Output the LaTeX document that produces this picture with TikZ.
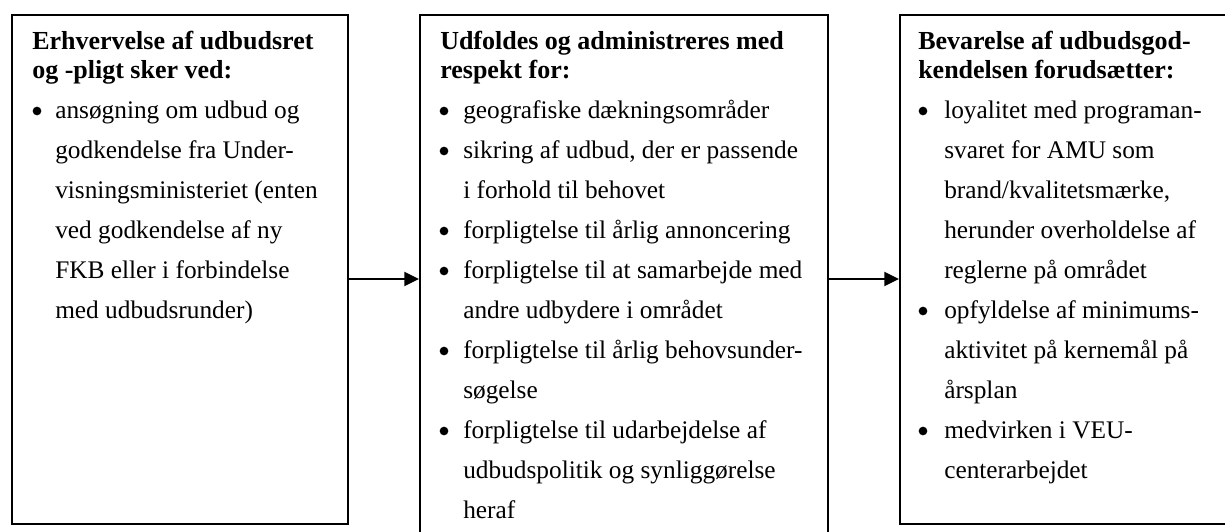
\documentclass[tikz,border=0pt]{standalone}
\usepackage{fontspec}
\setmainfont{Liberation Serif}
\usetikzlibrary{arrows.meta}
\begin{document}
\begin{tikzpicture}[x=0.75pt,y=-0.75pt,
  frame/.style={draw, line width=1.4pt, rectangle, inner sep=0pt, anchor=north west},
  txt/.style={anchor=base west, inner sep=0pt, font=\fontsize{19}{23}\selectfont},
  hd/.style={anchor=base west, inner sep=0pt, font=\bfseries\fontsize{19.5}{23}\selectfont},
  bul/.style={circle, fill=black, inner sep=0pt, minimum size=6.5pt},
  conn/.style={line width=1.4pt, -{Triangle[length=11pt,width=10.5pt]}}]
\useasboundingbox (0,0) rectangle (1225,532);
\clip (0,0) rectangle (1225,532);
% boxes
\node[frame, minimum width=252pt, minimum height=381.75pt] (n1) at (11,14) {};
\node[frame, minimum width=306pt, minimum height=395pt] (n2) at (419,14) {};
\node[frame, minimum width=250pt, minimum height=381.75pt] (n3) at (899,14) {};
% connectors
\coordinate (ay) at (0,279);
\draw[conn] (n1.east |- ay) -- (n2.west |- ay);
\draw[conn] (n2.east |- ay) -- (n3.west |- ay);
% box 1
\foreach \t [count=\i] in {{Erhvervelse af udbudsret},{og -pligt sker ved:}}
  \node[hd] (ah\i) at (32,{49+29*(\i-1)}) {\t};
\foreach \t [count=\i] in {{ansøgning om udbud og},{godkendelse fra Under-},{visningsministeriet (enten},{ved godkendelse af ny},{FKB eller i forbindelse},{med udbudsrunder)}}
  \node[txt] (a\i) at (55,{118+40*(\i-1)}) {\t};
\foreach \k in {1}
  \node[bul] (ab\k) at (37,{111+40*(\k-1)}) {};
% box 2
\foreach \t [count=\i] in {{Udfoldes og administreres med},{respekt for:}}
  \node[hd] (bh\i) at (440,{49+29*(\i-1)}) {\t};
\foreach \t [count=\i] in {{geografiske dækningsområder},{sikring af udbud, der er passende},{i forhold til behovet},{forpligtelse til årlig annoncering},{forpligtelse til at samarbejde med},{andre udbydere i området},{forpligtelse til årlig behovsunder-},{søgelse},{forpligtelse til udarbejdelse af},{udbudspolitik og synliggørelse},{heraf}}
  \node[txt] (b\i) at (463,{118+40*(\i-1)}) {\t};
\foreach \k in {1,2,4,5,7,9}
  \node[bul] (bb\k) at (444,{111+40*(\k-1)}) {};
% box 3
\foreach \t [count=\i] in {{Bevarelse af udbudsgod-},{kendelsen forudsætter:}}
  \node[hd] (ch\i) at (918,{49+29*(\i-1)}) {\t};
\foreach \t [count=\i] in {{loyalitet med programan-},{svaret for AMU som},{brand/kvalitetsmærke,},{herunder overholdelse af},{reglerne på området},{opfyldelse af minimums-},{aktivitet på kernemål på},{årsplan},{medvirken i VEU-},{centerarbejdet}}
  \node[txt] (c\i) at (944,{118+40*(\i-1)}) {\t};
\foreach \k in {1,6,9}
  \node[bul] (cb\k) at (923,{111+40*(\k-1)}) {};
\end{tikzpicture}
\end{document}
